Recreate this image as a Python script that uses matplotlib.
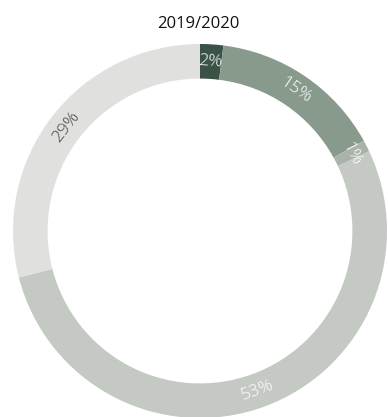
import numpy as np
import matplotlib.pyplot as plt

# share of each category, clockwise from the top
shares = [2, 15, 1, 53, 29]
labels = ['2%', '15%', '1%', '53%', '29%']
colors = ['#3b5247', '#879a8c', '#aab3aa', '#c4c9c3', '#e0e0df']
label_colors = ['white', 'white', 'white', 'white', '#444444']
title = '2019/2020'

plt.rcParams['font.family'] = ['Open Sans', 'DejaVu Sans']

fig = plt.figure(figsize=(3.88, 4.17), dpi=100)
W, H = 388, 417
cx, cy, R = 200, 231, 187
ax = fig.add_axes([(cx - R) / W, (H - cy - R) / H, 2 * R / W, 2 * R / H])

ring = 0.185
ax.pie(shares, colors=colors, startangle=90, counterclock=False, radius=1,
       wedgeprops=dict(width=ring, linewidth=0))
ax.set_xlim(-1, 1)
ax.set_ylim(-1, 1)
ax.set_aspect('equal')
ax.axis('off')

# labels follow the ring, centred in each wedge
total = sum(shares)
start = 0
r_lab = 1 - ring / 2
for s, lab, tc in zip(shares, labels, label_colors):
    mid = (start + s / 2) / total * 360  # degrees clockwise from top
    start += s
    theta = np.radians(90 - mid)
    rot = -mid
    if 90 < mid < 270:
        rot += 180
    ax.text(r_lab * np.cos(theta), r_lab * np.sin(theta), lab, color=tc,
            fontsize=12.5, rotation=rot, rotation_mode='anchor',
            ha='center', va='center', zorder=5, fontweight='light')

fig.text(198 / W, 1 - 24 / H, title, ha='center', va='center',
         fontsize=12, color='#111111')

fig.savefig('out.png', dpi=100)
